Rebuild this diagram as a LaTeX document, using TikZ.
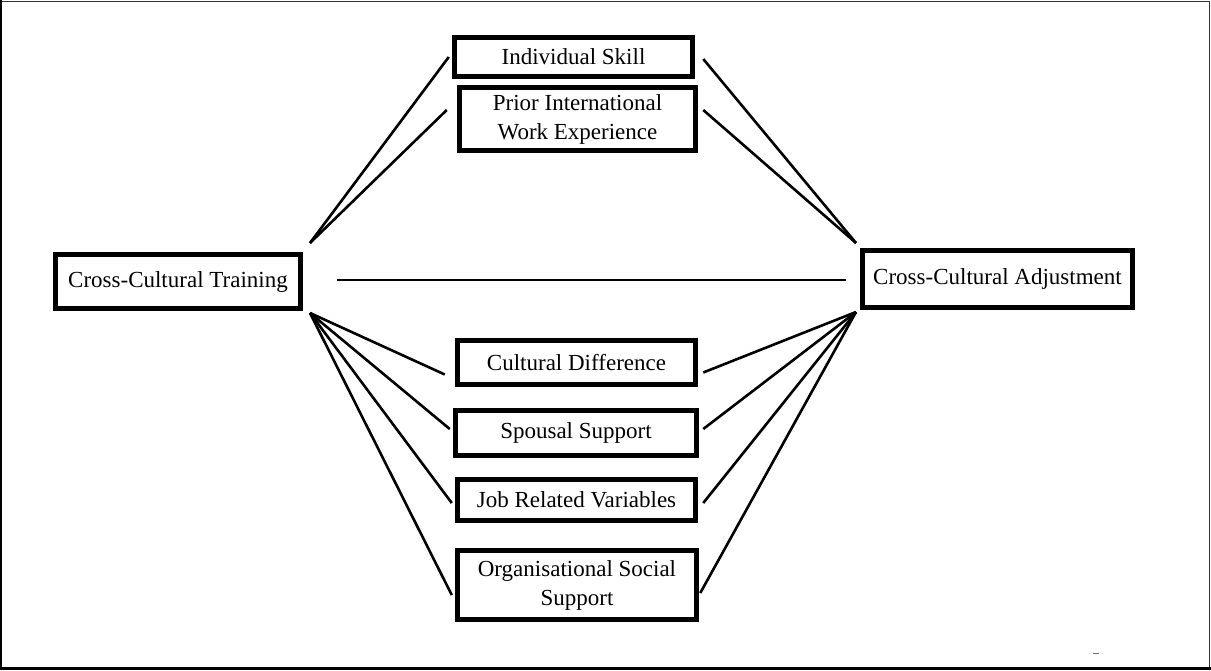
\documentclass[tikz,border=0pt]{standalone}
\usepackage{fontspec}
\setmainfont{Liberation Serif}
\begin{document}
\begin{tikzpicture}[x=1pt,y=-1pt,
  box/.style={draw=black,line width=5.5pt,fill=white,inner sep=0pt,align=center,
    font=\fontsize{23}{29}\selectfont},
  link/.style={draw=black,line width=2.6pt}]
\useasboundingbox (0,0) rectangle (1211,670);
% outer frame
\draw[black!80,line width=1pt] (1.5,1) -- (1209.5,1) -- (1209.5,667);
\draw[black,line width=2.5pt] (1.2,0) -- (1.2,668.5) -- (1211,668.5);

% boxes (minimum size = outer size minus line width)
\node[box,minimum width=238pt,minimum height=39pt] (ind) at (573.5,57) {Individual Skill};
\node[box,minimum width=236pt,minimum height=63pt] (pri) at (577.5,119) {Prior International\\Work Experience};
\node[box,minimum width=245pt,minimum height=54pt] (cct) at (178,281.5) {Cross-Cultural Training};
\node[box,minimum width=270pt,minimum height=57pt] (cca) at (997.5,279) {Cross-Cultural Adjustment};
\node[box,minimum width=238pt,minimum height=44pt] (cd) at (576.5,362.5) {Cultural Difference};
\node[box,minimum width=241pt,minimum height=45pt] (ss) at (576,433) {Spousal Support};
\node[box,minimum width=238pt,minimum height=41pt] (jr) at (576.5,500) {Job Related Variables};
\node[box,minimum width=239pt,minimum height=69pt] (os) at (577,585) {Organisational Social\\Support};

% convergence points of the connectors
\coordinate (lu) at (310,243);
\coordinate (ll) at (310,313);
\coordinate (ru) at (856,243);
\coordinate (rl) at (856,312);
\coordinate (hl) at (337,280);
\coordinate (hr) at (846,280);

% connectors
\draw[link] (lu) -- ([xshift=-3pt]ind.west);
\draw[link] (lu) -- ([xshift=-10pt,yshift=9pt]pri.west);
\draw[link] (ru) -- ([xshift=8pt,yshift=-2pt]ind.east);
\draw[link] (ru) -- ([xshift=5pt,yshift=9pt]pri.east);
\draw[link] (hl) -- (hr);
\draw[link] (ll) -- ([xshift=-10pt,yshift=-12pt]cd.west);
\draw[link] (ll) -- ([xshift=-3pt,yshift=4pt]ss.west);
\draw[link] (ll) -- ([xshift=-3pt,yshift=-3pt]jr.west);
\draw[link] (ll) -- ([xshift=-3pt,yshift=-10pt]os.west);
\draw[link] (rl) -- ([xshift=5pt,yshift=-10pt]cd.east);
\draw[link] (rl) -- ([xshift=4pt,yshift=4pt]ss.east);
\draw[link] (rl) -- ([xshift=5pt,yshift=-3pt]jr.east);
\draw[link] (rl) -- ([xshift=1pt,yshift=-8pt]os.east);

% small stray mark
\draw[black!55,line width=1.5pt] (1093,653.5) -- (1099,653.5);
\end{tikzpicture}
\end{document}
